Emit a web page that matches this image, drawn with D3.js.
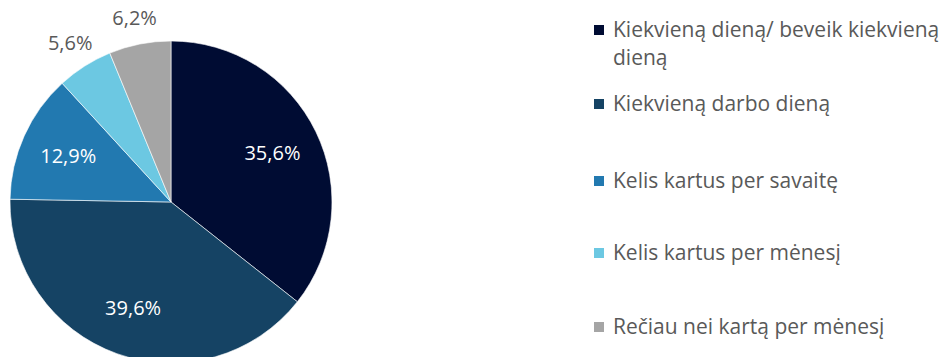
<!DOCTYPE html>
<html>
<head>
<meta charset="utf-8">
<script src="https://d3js.org/d3.v7.min.js"></script>
<style>
  body { margin: 0; background: #fff; }
  svg text { font-family: "Open Sans", "Noto Sans", sans-serif; }
</style>
</head>
<body>
<svg id="chart" width="944" height="357"></svg>
<script>
var categories = [
  "Kiekvieną dieną/ beveik kiekvieną dieną",
  "Kiekvieną darbo dieną",
  "Kelis kartus per savaitę",
  "Kelis kartus per mėnesį",
  "Rečiau nei kartą per mėnesį"
];
var values = [35.6, 39.6, 12.9, 5.6, 6.2];
var colors = ["#000c33", "#154364", "#2279b0", "#6cc8e2", "#a5a5a5"];
var labelColors = ["#fff", "#fff", "#fff", "#595959", "#595959"];

var svg = d3.select("#chart");
var cx = 171, cy = 202, r = 161;

var pie = d3.pie().sort(null).value(function(d) { return d; });
var arcs = pie(values);
var arc = d3.arc().innerRadius(0).outerRadius(r);

var g = svg.append("g").attr("transform", "translate(" + cx + "," + cy + ")");

g.selectAll("path")
  .data(arcs)
  .enter()
  .append("path")
  .attr("d", arc)
  .attr("fill", function(d, i) { return colors[i]; })
  .attr("stroke", "#fff")
  .attr("stroke-width", 0.6);

// inside labels near 0.7r, small slices get pushed outside
var inner = d3.arc().innerRadius(r * 0.7).outerRadius(r * 0.7);
var outer = d3.arc().innerRadius(r + 27).outerRadius(r + 27);

g.selectAll("text.lbl")
  .data(arcs)
  .enter()
  .append("text")
  .attr("class", "lbl")
  .attr("transform", function(d) {
    var p = (d.value < 8 ? outer : inner).centroid(d);
    return "translate(" + p[0] + "," + p[1] + ")";
  })
  .attr("text-anchor", "middle")
  .attr("dy", "0.35em")
  .style("font-size", "20px")
  .attr("fill", function(d, i) { return labelColors[i]; })
  .text(function(d) { return d.value.toFixed(1).replace(".", ",") + "%"; });

// legend
var legendRows = [30, 104, 181, 253, 327];
var legend = svg.append("g").attr("transform", "translate(594,0)");

var items = legend.selectAll("g")
  .data(categories)
  .enter()
  .append("g")
  .attr("transform", function(d, i) { return "translate(0," + legendRows[i] + ")"; });

items.append("rect")
  .attr("x", 0)
  .attr("y", -5)
  .attr("width", 10)
  .attr("height", 10)
  .attr("fill", function(d, i) { return colors[i]; });

items.append("text")
  .attr("x", 19)
  .attr("dy", "0.35em")
  .style("font-size", "21px")
  .attr("fill", "#595959")
  .each(function(d) {
    var t = d3.select(this);
    if (d.indexOf("beveik") > -1) {
      t.append("tspan").attr("x", 19).text("Kiekvieną dieną/ beveik kiekvieną");
      t.append("tspan").attr("x", 19).attr("dy", 28).text("dieną");
    } else {
      t.text(d);
    }
  });
</script>
</body>
</html>
